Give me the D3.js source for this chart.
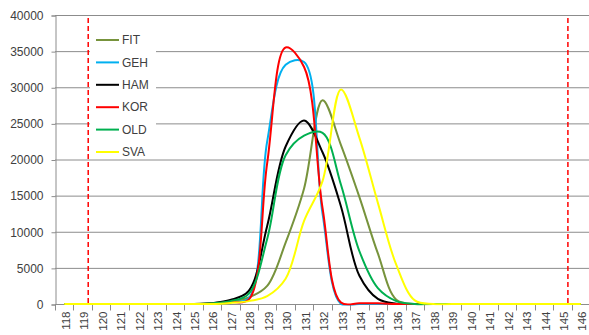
<!DOCTYPE html>
<html>
<head>
<meta charset="utf-8">
<script src="https://cdn.jsdelivr.net/npm/d3@7"></script>
<style>
  body { margin: 0; background: #fff; }
  text { font-family: "Liberation Sans", Arial, sans-serif; fill: #404040; }
</style>
</head>
<body>
<svg id="chart" width="589" height="335"></svg>
<script>
// Category axis labels
const categories = [118,119,120,121,122,123,124,125,126,127,128,129,130,131,132,
                    133,134,135,136,137,138,139,140,141,142,143,144,145,146];

// Series values, one per category
const fitValues = [0,0,0,0,0,0,0,0, 100,350,900,2500,8500,16000,28200,22000,14800,7000,600,0, 0,0,0,0,0,0,0,0,0];
const gehValues = [0,0,0,0,0,0,0,0, 80,300,800,22500,33100,33500,12500,0,0,0,0,0, 0,0,0,0,0,0,0,0,0];
const hamValues = [0,0,0,0,0,0,0,0, 120,550,1800,10800,21800,25400,21000,13500,3900,700,50,0, 0,0,0,0,0,0,0,0,0];
const korValues = [0,0,0,0,0,0,0,0, 60,250,600,19500,35500,32800,13300,200,100,100,0,0, 0,0,0,0,0,0,0,0,0];
const oldValues = [0,0,0,0,0,0,0,0, 100,400,1400,9000,20600,23300,23700,16500,7300,2200,400,0, 0,0,0,0,0,0,0,0,0];
const svaValues = [0,0,0,0,0,0,0,0, 0,150,400,1100,3500,11500,17000,29700,23000,14000,5400,500, 0,0,0,0,0,0,0,0,0];

const seriesNames  = ["FIT", "GEH", "HAM", "KOR", "OLD", "SVA"];
const seriesValues = [fitValues, gehValues, hamValues, korValues, oldValues, svaValues];
const seriesColors = ["#77933C", "#00B0F0", "#000000", "#FF0000", "#00B050", "#FFFF00"];

const yTicks = [0, 5000, 10000, 15000, 20000, 25000, 30000, 35000, 40000];

// Vertical limit markers (in category units)
const limitLines = [119.3, 145.3];

// ---- layout ----
const svg = d3.select("#chart");
const plotLeft = 55, plotTop = 15, plotBottom = 304, bandW = 18.45;
const plotRight = plotLeft + bandW * categories.length;
const gridColor = "#8c8c8c";

const x = d3.scaleBand().domain(categories).range([plotLeft, plotRight]).padding(0);
const xv = d3.scaleLinear()
  .domain([categories[0] - 0.5, categories[categories.length - 1] + 0.5])
  .range([plotLeft, plotRight]);
const y = d3.scaleLinear().domain([0, 40000]).range([plotBottom, plotTop]);

// Horizontal gridlines
svg.append("g").selectAll("line")
  .data(yTicks.filter(d => d > 0))
  .join("line")
  .attr("x1", plotLeft).attr("x2", plotRight)
  .attr("y1", d => y(d) + 0.5).attr("y2", d => y(d) + 0.5)
  .attr("stroke", gridColor).attr("stroke-width", 1);

// Y axis
const yAxis = svg.append("g")
  .attr("transform", `translate(${plotLeft + 0.5},0.5)`)
  .call(d3.axisLeft(y).tickValues(yTicks).tickSize(4).tickPadding(8).tickFormat(d3.format("d")));
yAxis.select(".domain").attr("stroke", gridColor);
yAxis.selectAll(".tick line").attr("stroke", gridColor);
yAxis.selectAll(".tick text")
  .style("font-size", "12px")
  .style("font-family", "'Liberation Sans', Arial, sans-serif")
  .attr("fill", "#404040");

// X axis: baseline, boundary ticks, rotated labels
const xAxis = svg.append("g").attr("transform", `translate(0,${plotBottom + 0.5})`);
xAxis.append("line")
  .attr("x1", plotLeft).attr("x2", plotRight)
  .attr("stroke", gridColor);
xAxis.selectAll("line.tk")
  .data(categories.map(c => x(c)).concat([plotRight]))
  .join("line").attr("class", "tk")
  .attr("x1", d => Math.round(d) + 0.5).attr("x2", d => Math.round(d) + 0.5)
  .attr("y1", 0).attr("y2", 6)
  .attr("stroke", gridColor);
xAxis.selectAll("text")
  .data(categories)
  .join("text")
  .attr("transform", d => `translate(${x(d) + bandW / 2 + 1.6},7) rotate(-90)`)
  .attr("text-anchor", "end")
  .attr("dy", "0.35em")
  .style("font-size", "11.5px")
  .text(d => d);

// Legend backdrop
const legendX = 96, legendY = 40, legendStep = 22.4;
svg.append("rect")
  .attr("x", 90).attr("y", 28).attr("width", 66).attr("height", 129)
  .attr("fill", "#fff");

// Limit markers
svg.append("g").selectAll("line")
  .data(limitLines)
  .join("line")
  .attr("x1", d => xv(d)).attr("x2", d => xv(d))
  .attr("y1", 18).attr("y2", plotBottom)
  .attr("stroke", "#FF0000").attr("stroke-width", 1.5)
  .attr("stroke-dasharray", "5,3");

// Series lines (smoothed)
svg.append("clipPath").attr("id", "plotClip")
  .append("rect")
  .attr("x", plotLeft).attr("y", 0)
  .attr("width", plotRight - plotLeft).attr("height", plotBottom + 1.5);

const line = d3.line()
  .x((d, i) => x(categories[i]) + bandW / 2)
  .y(d => y(d))
  .curve(d3.curveCatmullRom.alpha(0.5));

svg.append("g").attr("clip-path", "url(#plotClip)")
  .selectAll("path")
  .data(seriesValues)
  .join("path")
  .attr("d", d => line(d))
  .attr("fill", "none")
  .attr("stroke", (d, i) => seriesColors[i])
  .attr("stroke-width", 2)
  .attr("stroke-linejoin", "round");

// Legend entries
const legend = svg.append("g");
seriesNames.forEach((name, i) => {
  const ly = legendY + i * legendStep;
  legend.append("line")
    .attr("x1", legendX).attr("x2", legendX + 23)
    .attr("y1", ly).attr("y2", ly)
    .attr("stroke", seriesColors[i]).attr("stroke-width", 2);
  legend.append("text")
    .attr("x", legendX + 26).attr("y", ly)
    .attr("dy", "0.35em")
    .style("font-size", "12px")
    .text(name);
});
</script>
</body>
</html>
